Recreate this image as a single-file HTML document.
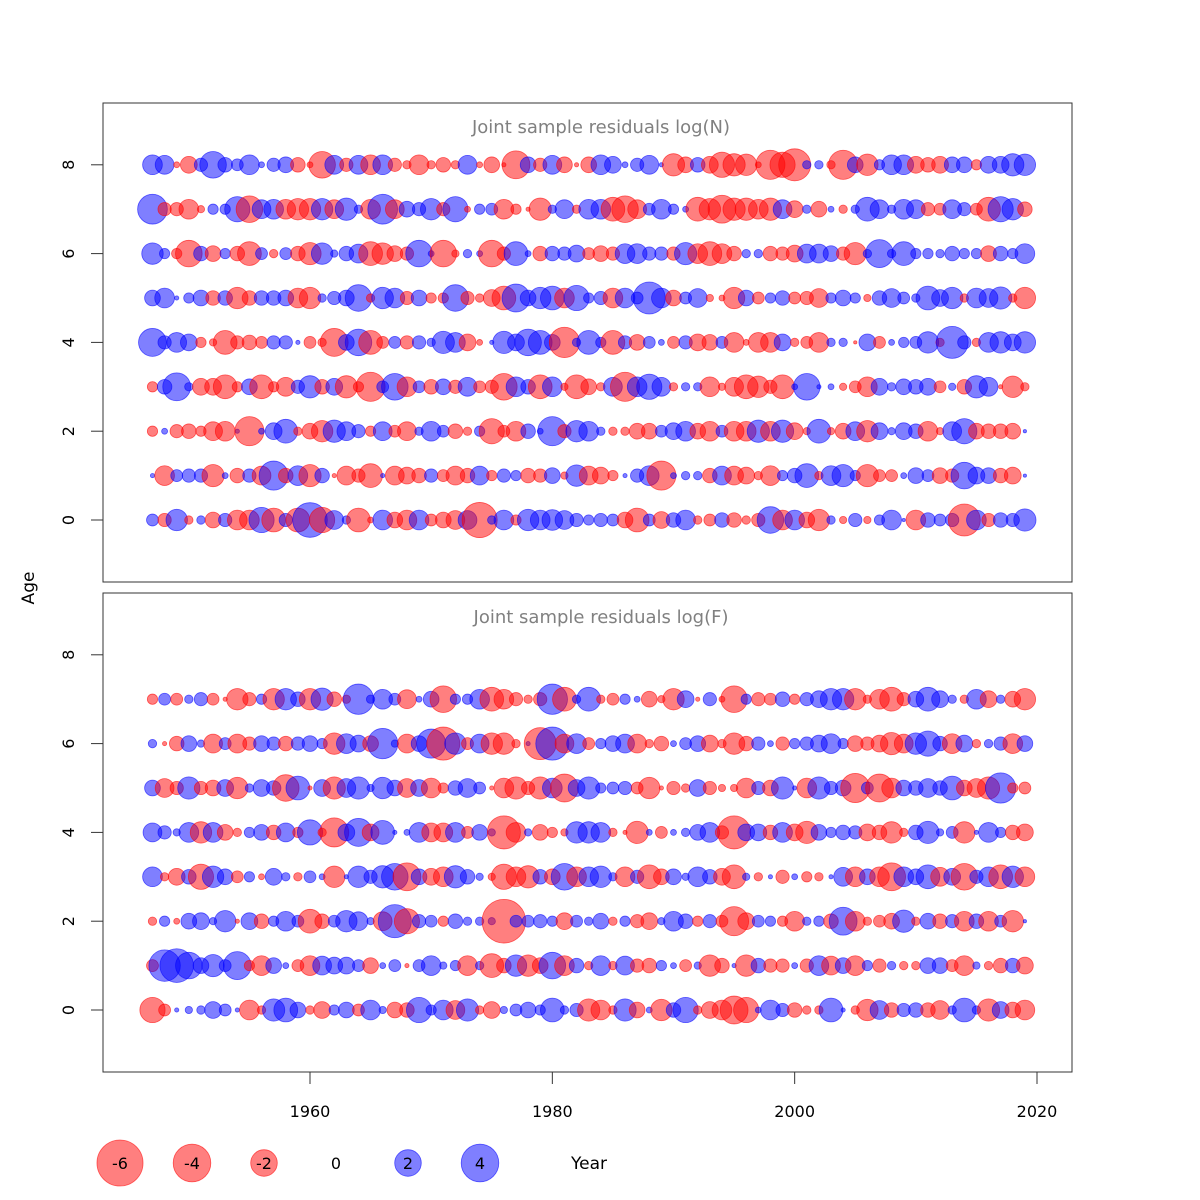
<!DOCTYPE html>
<html><head><meta charset="utf-8"><style>
html,body{margin:0;padding:0;background:#fff;}
svg{display:block;font-family:"DejaVu Sans","Liberation Sans",sans-serif;}
</style></head><body>
<svg id="chart" width="1200" height="1200" viewBox="0 0 1200 1200" xmlns="http://www.w3.org/2000/svg">
<rect width="1200" height="1200" fill="#fff"/>
<g id="g"></g>
</svg>
<script>
const years = Array.from({length:73},(_,i)=>1947+i);
const xTicks = [1960,1980,2000,2020];
const yTicks = [0,2,4,6,8];
const legendValues = [-6,-4,-2,0,2,4];
const titleN = "Joint sample residuals log(N)";
const titleF = "Joint sample residuals log(F)";

const N8 = [1.1,1.0,-0.1,-0.8,0.5,2,0.6,0.4,1.1,0.1,0.5,0.7,-0.6,-0.1,-2,1,-0.5,1,-1.1,1.1,-0.5,-0.2,-1.1,-0.2,-0.6,-0.2,1,-0.1,-0.7,-0.05,-2.2,0.7,-0.5,1,-0.7,-0.05,-0.7,
 1.1,0.8,0.1,0.5,1,0.05,-1.4,-0.7,0.6,-0.8,-1.8,-1.4,-1.3,-0.1,-2.4,-1.8,-2.9,0.2,0.2,-0.2,-2.4,0.7,-1.3,0.3,1.1,1.1,-0.8,-0.6,-0.8,0.7,0.7,-0.3,0.8,0.8,1.4,1.3];
const N7 = [2.5,-0.5,-0.5,-1.1,-0.15,0.3,0.3,1.8,-2,1,1.1,-1.1,-1.3,-1.3,1.3,-1,1.4,0.2,-1.1,2.5,-1,0.7,0.5,1.3,-0.5,1.8,-0.1,0.3,0.4,-1.1,-0.3,-0.05,-1.4,0.2,1,-0.2,1.1,
 1.1,-1.6,-2,-1,0.4,1.1,0.3,0.1,-1.6,-1.3,-2.2,-1.4,-1.4,-1.1,-1.4,1,-0.8,0.2,-0.7,0.1,-0.2,0.2,1.6,1,0.2,1.1,1,-0.5,-0.4,1,0.5,-0.4,-1.6,1.8,1.3,-0.6];
const N6 = [1.3,0.3,-0.3,-2,0.6,-0.7,0.3,-0.6,-1.6,0.4,-0.2,0.4,-0.6,-1.4,1.3,0.15,0.6,1,-1.6,-1.3,-0.7,-0.5,2,0.1,-2,-0.15,0.2,0.1,-2,-0.5,1.6,0.1,-0.6,0.6,0.5,0.8,-0.4,
 -0.7,-0.5,1.1,1.1,0.5,0.5,-0.5,1.4,-1.1,-1.6,-1.1,-0.6,0.2,0.2,-0.6,-0.5,-0.8,1,1,0.7,-0.5,-1.4,0.2,2.2,0.2,1.6,0.3,0.3,0.2,0.6,0.3,0.3,-0.7,0.6,0.3,1.1];
const N5 = [0.7,1.1,0.05,0.3,0.7,-0.6,0.6,-1.3,-0.6,0.6,0.6,0.7,-1.1,-1.3,0.2,0.5,0.7,2,-0.2,1.3,1.1,-0.5,0.7,-0.3,-0.3,2,-0.5,-0.2,-0.8,-1.6,2.2,0.7,1.3,1.6,-1.1,1.8,0.3,
 0.5,-1.1,1.1,0.4,2.9,1.1,-0.7,0.4,1,-0.15,-0.1,-1.3,0.7,-0.4,0.3,0.6,-0.4,-0.5,-1,0.3,0.7,0.3,-0.15,0.6,1,0.4,0.2,1.6,0.8,1.3,-0.2,1.1,1,1.4,-0.2,-1.3];
const N4 = [2.2,0.5,1.1,0.8,-0.3,-0.15,-1.6,-0.5,-0.6,-0.4,0.5,0.5,0.05,-0.4,-0.2,-2.2,0.7,2,-1.6,-0.4,0.4,-0.5,0.5,0.2,1.4,1.1,-0.8,-0.1,0.05,1.4,0.8,2,1.6,0.7,-2.6,0.2,1.6,
 0.3,-1.6,0.5,-0.7,0.4,0.1,-0.4,0.5,-0.8,-0.7,0.4,-1.1,-0.1,-1.1,-1.1,0.8,-0.2,-0.4,-1.1,0.2,0.2,-0.03,0.8,-0.4,0.1,0.3,0.4,1.3,-0.2,2.9,0.5,-0.2,1.1,1.3,0.8,1.3];
const N3 = [-0.3,0.6,2.2,0.2,-0.8,-0.8,-1.6,-0.3,0.7,-1.6,-0.3,-1,0.5,1.4,-0.6,0.8,-1.4,-0.3,-2.4,0.4,2,-1.1,0.4,-0.6,0.7,-0.5,1,-0.4,-0.5,-2,1.1,0.6,-1.6,1.1,-0.15,-1.6,-0.7,
 -0.2,1,-2.4,1.1,1.8,1,-0.2,0.2,0.2,-1.1,-0.15,-1,-1.6,-1.3,-0.5,-1.6,0.1,2,0.05,0.1,-0.15,-0.4,-1.1,0.8,0.2,0.7,0.6,0.8,-0.4,0.15,-0.6,1.4,1,-0.05,-1.3,-0.2];
const N2 = [-0.3,0.1,-0.5,-0.6,-0.3,-1,-1.1,0.05,-2.4,0.1,0.8,1.6,-0.2,-0.7,-1.3,1.4,1,0.5,-0.3,1,-0.4,-1,0.2,1.1,0.4,-0.6,-0.2,0.3,-1.8,-0.4,-1.1,0.6,0.1,2.4,-0.5,1.3,1.1,
 0.2,-0.2,-0.2,-0.7,-0.7,0.4,0.8,1.1,-0.7,-1.1,0.4,-1.1,-1.1,1.4,-1.1,1.4,-0.8,-0.15,1.6,-0.15,-0.7,1,-1.3,0.8,0.15,0.8,0.6,-1.1,-0.15,1,1.8,-0.7,-0.6,-0.6,-0.7,0.03];
const N1 = [0.05,-1.1,0.4,0.5,0.5,-1.4,0.1,-0.6,0.5,-1,2.4,-0.6,1.1,-1.4,0.6,-0.05,-1,-0.5,-1.6,0.05,-1,-0.8,-0.6,0.5,-0.4,-1,-0.6,1,-0.3,0.5,0.3,-0.6,-0.5,0.7,-0.15,1.3,-1,
 -0.8,-0.3,0.05,0.5,1.1,-2.4,0.1,0.2,0.2,-0.6,1,-1,-0.8,-0.2,-1.1,0.3,0.6,1.6,-0.2,1.1,1.4,0.3,-1.4,-0.4,-0.4,0.1,0.7,0.4,-0.7,-0.5,2,0.8,0.7,-0.6,-0.8,0.03];
const N0 = [0.4,-0.5,1.3,-0.2,0.2,-0.7,0.5,-1.1,-1.1,1.8,-1.6,0.5,-1.6,3.4,-1.8,1,0.2,-1.6,-0.1,1.1,-0.7,-1.1,1.1,-0.4,-0.7,-1,1,-3.5,0.2,1.1,-0.3,1.3,1.1,1.2,1,0.5,0.3,
 0.5,0.4,-0.7,-1.6,0.4,-0.8,0.6,1.1,-0.2,-0.4,0.6,-0.6,-0.2,-0.5,2,-1.1,1.1,-0.7,-1.3,0.2,-0.15,0.5,-0.15,0.3,1.1,0.03,-1.1,0.6,0.4,0.5,-2.9,1.1,-0.5,0.6,0.5,1.4];

const F7 = [-0.3,0.4,-0.4,0.2,0.5,-0.4,-0.05,-1.3,-0.5,0.3,-1.3,1.3,0.6,-1.3,1.4,-0.6,-0.2,2.6,0.2,1.1,0.4,-1,0.1,0.7,-2,0.3,0.3,1.1,-1.6,-1.1,-0.5,-0.2,-0.5,2.6,-1.6,0.2,1.6,
 -0.2,-0.4,0.3,0.1,-0.7,-0.15,-1.3,0.8,-0.05,0.5,-0.1,-2,0.3,-0.5,-0.4,0.6,-0.3,0.5,0.8,1.3,1.3,-1.3,-0.2,-1.1,-1.6,-0.5,0.7,1.6,0.8,0.2,-0.2,1.1,-0.8,0.2,-0.7,-1.3];
const F6 = [0.2,-0.05,-0.6,0.7,0.15,-1,0.4,-1,-0.5,0.7,0.5,-0.6,0.5,0.7,0.3,-1.3,1.1,0.8,-0.7,2.6,0.15,-1,0.7,2.4,-3.1,1.3,-0.4,1,-1.3,-1.3,-0.2,0.05,-2.9,3.1,-1,1.1,-0.4,
 0.3,0.7,1,-1,-0.2,-0.6,0.1,0.4,0.7,-0.8,-0.2,-1.3,-0.6,0.5,0.1,-0.5,0.3,0.5,0.8,1.1,0.3,-0.7,-0.5,-0.8,-1.4,-1,1.3,1.8,0.6,-1.1,0.8,-0.2,0.2,0.5,-1.1,0.7];
const F5 = [0.7,-1,-0.5,1.4,-0.5,-0.7,0.8,-1.3,0.2,0.8,0.6,-2,1.6,-0.05,0.8,-1.4,1,1.4,0.15,1.3,0.7,-1,0.8,-1.1,-0.3,0.6,1,0.4,-0.05,-1.1,-1.4,-0.5,-1.4,1.1,-2.2,0.8,1.4,
 0.3,0.4,0.5,-0.4,-1.3,-0.05,-0.5,-0.2,0.8,-0.5,-0.15,-0.15,-1.1,0.5,-0.7,1.4,0.05,-1.1,1.4,0.5,0.7,-2.4,0.4,-2.2,-1.1,0.7,0.6,1,0.6,1.6,-0.7,-1,-1.4,2.6,-0.3,-0.4];
const F4 = [1,0.5,0.15,1.1,-1.3,1.1,-0.7,-0.2,0.3,0.7,-0.6,1,-0.3,1.8,-0.2,-2.4,0.8,2.2,-0.8,1.6,0.05,0.1,1.1,-1,-1,1.1,-0.4,0.7,0.15,-3.1,-1.1,0.15,-0.7,-0.3,-0.15,1.3,1.3,
 1.1,-0.2,-0.05,-1.4,0.1,-0.4,0.1,0.2,0.7,1.1,-0.5,-3.1,0.8,0.8,-0.6,1.1,-0.8,-1.4,0.7,0.3,0.6,0.5,-0.8,-0.6,-1.3,-0.2,0.6,1.4,0.15,0.4,-1.3,0.05,1.1,0.3,-0.6,-0.8];
const F3 = [1.1,-0.2,-0.8,0.6,-1.8,1.3,0.7,-0.4,0.3,-0.1,0.8,0.2,-0.2,0.4,0.1,-1.3,0.05,1.3,0.5,1.4,2,-2.2,0.7,-0.8,-1.1,1.4,0.6,0.15,-0.15,-1.8,-1.1,-1.4,0.6,-0.7,2,-1.1,1.1,
 1.3,0.2,-1.1,0.5,-1.6,-0.7,0.7,0.15,1.1,0.6,-0.8,-1.6,0.15,-0.2,0.05,-0.5,0.1,-0.3,-0.2,0.05,1,-1.1,0.7,-1.1,-2.2,1.1,0.7,1.6,-1,0.8,-2,0.5,1.1,-1.6,1.3,-1.1];
const F2 = [-0.2,0.3,-0.1,0.7,0.8,0.15,1.3,-0.05,0.8,-0.6,0.3,1.1,0.4,-1.6,-0.6,0.4,1.3,1,0.15,-1,3.1,-1.8,0.5,0.4,-0.3,0.6,0.2,0.2,0.15,-5.4,0.4,0.4,0.5,0.3,-0.8,0.4,0.2,
 0.7,-0.2,0.3,-0.5,-0.8,0.15,1.1,0.6,-0.3,0.5,-0.4,-2.4,-0.8,0.4,0.3,-0.3,-1.1,0.2,0.3,-0.6,2.2,-1.1,-0.2,-0.4,-0.7,1.4,-0.2,0.7,-0.6,0.5,-1.1,0.6,-1.1,0.4,-1.3,0.03];
const F1 = [-0.4,2.8,3.2,2,0.7,1.4,0.4,2.2,-0.3,-1.1,0.7,0.1,-0.4,-1.1,1,0.8,0.8,0.4,-0.7,0.1,0.4,-0.05,0.4,1.1,0.15,0.3,-1.1,0.2,-1.6,-0.6,1.3,-1.3,-0.7,2,-1.1,0.6,-0.2,
 1.1,-0.2,1,-0.5,-0.6,0.3,0.1,-0.4,0.15,-1.3,-0.6,0.05,-1.3,0.6,-0.5,-0.5,0.1,-0.5,1.1,-1,0.7,-1.1,0.3,-0.5,0.2,-0.2,-0.2,0.7,0.7,-0.4,-1.1,0.15,-0.2,-0.6,0.6,-0.8];
const F0 = [-1.8,-0.4,0.05,0.15,0.2,0.8,0.4,0.05,-1.1,-0.2,1.4,1.6,0.7,-0.2,-0.8,0.3,0.7,-0.4,1.1,0.15,-0.7,-0.6,1.8,0.3,1.1,-1,1.4,-0.2,-0.8,0.15,0.4,0.7,0.3,1.6,0.2,0.5,-1.4,
 -1.1,-0.2,1.4,-0.7,0.1,-1.3,0.6,1.8,-0.2,-0.8,-1.1,-2.2,-1.8,0.1,1.1,0.5,-0.6,-0.2,-0.2,1.6,0.05,-0.2,-1.3,1,-0.6,0.5,0.6,-0.6,-1,0.2,1.6,0.2,-1.4,0.8,-0.7,-1.1];

const agesN = [0,1,2,3,4,5,6,7,8];
const seriesN = [N0,N1,N2,N3,N4,N5,N6,N7,N8];
const agesF = [0,1,2,3,4,5,6,7];
const seriesF = [F0,F1,F2,F3,F4,F5,F6,F7];

const NS="http://www.w3.org/2000/svg";
const root=document.getElementById('g');
function mk(tag,attrs,parent){const e=document.createElementNS(NS,tag);for(const k in attrs)e.setAttribute(k,attrs[k]);(parent||root).appendChild(e);return e;}
const xScale = y => 310 + (y-1960)*(727/60);
const rScale = v => 9.4*Math.sqrt(Math.abs(v));
const fillOf = v => v<0 ? 'rgba(255,0,0,0.5)' : 'rgba(0,0,255,0.5)';
const strokeOf = v => v<0 ? 'rgba(255,0,0,0.6)' : 'rgba(0,0,255,0.6)';

function panel(top, title, ages, series, name){
  const bottom = top+479;
  const y0 = top+417, unit = 44.4;
  const yScale = a => y0 - a*unit;
  const g = mk('g',{});
  
  
  const frame = mk('rect',{x:103,y:top,width:969,height:479,fill:'none',stroke:'#333','stroke-width':1},g);
  
  
  const t = mk('text',{x:601,y:top+30,'font-size':18,fill:'#808080','text-anchor':'middle'},g);
  t.textContent = title;
  
  
  yTicks.forEach(v=>{
    const yy=yScale(v);
    const tk = mk('line',{x1:103,x2:91,y1:yy,y2:yy,stroke:'#333'},g);
    
    
    const lb = mk('text',{x:0,y:0,'font-size':16,fill:'#000','text-anchor':'middle',transform:`translate(74,${yy}) rotate(-90)`},g);
    lb.textContent = v;
    
    
  });
  ages.forEach((age,ai)=>{
    series[ai].forEach((v,yi)=>{
      const c = mk('circle',{cx:xScale(years[yi]),cy:yScale(age),r:Math.max(rScale(v),0.6),fill:fillOf(v),stroke:strokeOf(v),'stroke-width':0.8},g);
      
      
    });
  });
  return bottom;
}
panel(103, titleN, agesN, seriesN, 'panel-log-n');
const bot = panel(593, titleF, agesF, seriesF, 'panel-log-f');

xTicks.forEach(v=>{
  const xx=xScale(v);
  const tk = mk('line',{x1:xx,x2:xx,y1:1072,y2:1084,stroke:'#333'});
  
  
  const lb = mk('text',{x:xx,y:1117,'font-size':16,'text-anchor':'middle',fill:'#000'});
  lb.textContent = v;
  
  
});
const xl = mk('line',{x1:xScale(1960),x2:xScale(2020),y1:1072,y2:1072,stroke:'#333'});



const ageLabel = mk('text',{x:0,y:0,'font-size':17,'text-anchor':'middle',transform:'translate(34,588) rotate(-90)'});
ageLabel.textContent='Age';



legendValues.forEach((v,i)=>{
  const cx = 120 + i*72;
  if(v!==0){
    const c = mk('circle',{cx:cx,cy:1163,r:rScale(v),fill:fillOf(v),stroke:strokeOf(v),'stroke-width':0.8});
    
    
  }
  const t = mk('text',{x:cx,y:1169,'font-size':16,'text-anchor':'middle',fill:'#000'});
  t.textContent = v;
  
  
});
const yr = mk('text',{x:589,y:1169,'font-size':17,'text-anchor':'middle',fill:'#000'});
yr.textContent='Year';


</script>
</body></html>
